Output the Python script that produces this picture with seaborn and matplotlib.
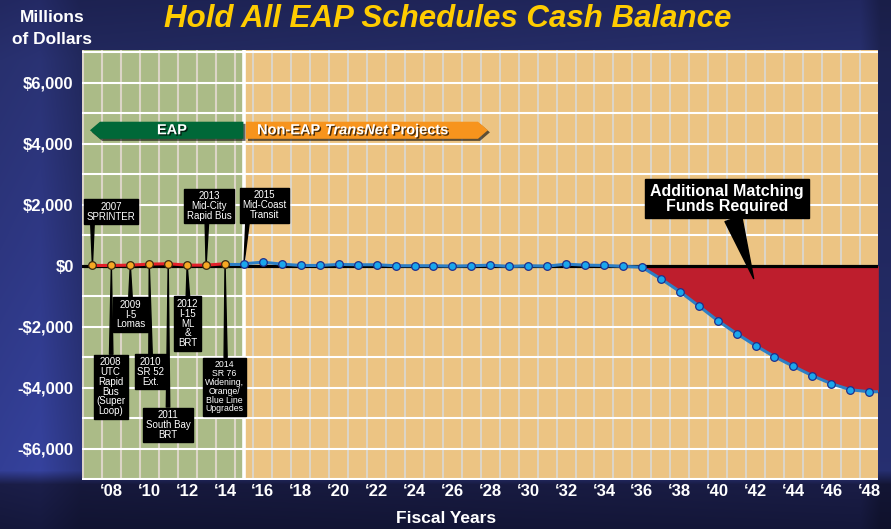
import numpy as np
import pandas as pd
import matplotlib
matplotlib.use("Agg")
import matplotlib.pyplot as plt
import matplotlib.patheffects as pe
from matplotlib.patches import Polygon
from matplotlib.colors import to_rgb
import seaborn as sns

# ---------------- data ----------------
eap_years = [2007, 2008, 2009, 2010, 2011, 2012, 2013, 2014]
eap_values = [10, 10, 20, 53, 66, 20, 20, 66]

plan_years = list(range(2015, 2049))
plan_values = [66, 118, 53, 10, 10, 43, 33, 33, 0, 0,
               0, -13, 0, 20, -23, 0, -13, 53, 20, 10,
               -20, -46, -427, -844, -1314, -1796, -2223, -2617, -2979, -3297,
               -3603, -3865, -4062, -4128]
shortfall_start = 2036

xtick_years = list(range(2008, 2049, 2))
xtick_labels = ["‘08", "‘10", "‘12", "‘14", "‘16", "‘18", "‘20", "‘22", "‘24", "‘26",
                "‘28", "‘30", "‘32", "‘34", "‘36", "‘38", "‘40", "‘42", "‘44", "‘46", "‘48"]
ytick_values = [-6000, -4000, -2000, 0, 2000, 4000, 6000]
ytick_labels = ["-$6,000", "-$4,000", "-$2,000", "$0", "$2,000", "$4,000", "$6,000"]

milestone_years = [2007, 2008, 2009, 2010, 2011, 2012, 2013, 2014, 2015]
milestone_labels = ["2007\nSPRINTER",
                    "2008\nUTC\nRapid\nBus\n(Super\nLoop)",
                    "2009\nI-5\nLomas",
                    "2010\nSR 52\nExt.",
                    "2011\nSouth Bay\nBRT",
                    "2012\nI-15\nML\n&\nBRT",
                    "2013\nMid-City\nRapid Bus",
                    "2014\nSR 76\nWidening,\nOrange/\nBlue Line\nUpgrades",
                    "2015\nMid-Coast\nTransit"]

# ---------------- style ----------------
sns.set_theme(style="white")
plt.rcParams["font.family"] = ["Liberation Sans", "DejaVu Sans"]
NARROW = ["Liberation Sans Narrow", "Liberation Sans", "DejaVu Sans"]

W, H = 891, 529
fig = plt.figure(figsize=(W / 100, H / 100), dpi=100)

# background gradient
bg = fig.add_axes([0, 0, 1, 1], zorder=-10)
ys = np.arange(H)
stops_y = [0, 60, 250, 470, 484, 529]
stops_c = [to_rgb(c) for c in ["#222860", "#28306E", "#2D3680", "#333F96", "#1A1D46", "#14173A"]]
img = np.zeros((H, W, 3))
for k in range(3):
    col = np.interp(ys, stops_y, [c[k] for c in stops_c])
    img[:, :, k] = col[:, None]
xs = np.arange(W)
shade = np.interp(xs, [0, 40, 80, 860, 880, 891], [1.0, 1.05, 0.85, 1.0, 0.75, 0.75])
img = np.clip(img * shade[None, :, None], 0, 1)
bg.imshow(img, aspect="auto", extent=[0, 1, 0, 1])
bg.set_axis_off()

ax = fig.add_axes([82 / W, 1 - 480 / H, (878.3 - 82) / W, (480 - 50) / H])
XMIN, XMAX = 2006.45, 2048.48
YMIN, YMAX = -7020, 7070
ax.set_xlim(XMIN, XMAX)
ax.set_ylim(YMIN, YMAX)

boundary = plan_years[0]
ax.axvspan(XMIN, boundary, color="#ABBB87", lw=0, zorder=0)
ax.axvspan(boundary, XMAX, color="#ECC483", lw=0, zorder=0)
for v in np.arange(2006.5, 2049, 1.0):
    ax.axvline(v, color="#DCD5C7", lw=1.5, zorder=0.5)
for h in range(-7000, 7001, 1000):
    ax.axhline(h, color="white", lw=1.5, zorder=0.6)
ax.axvline(boundary, color="white", lw=2.6, zorder=0.7)

# shortfall fill
fx = [y for y in plan_years if y >= shortfall_start]
fv = [v for y, v in zip(plan_years, plan_values) if y >= shortfall_start]
ax.fill_between(fx + [XMAX], fv + [fv[-1]], 0, color="#BE1E2D", lw=0, zorder=1)
ax.axhline(0, color="black", lw=2.3, zorder=2)

# lines
df_eap = pd.DataFrame({"year": eap_years, "value": eap_values})
sns.lineplot(data=df_eap, x="year", y="value", ax=ax, color="#E3202A", lw=2.2,
             marker="o", markersize=5.5, markerfacecolor="#F7A823",
             markeredgecolor="#3A2A10", markeredgewidth=0.9, zorder=5)
sns.lineplot(x=[eap_years[-1], plan_years[0]], y=[eap_values[-1], plan_values[0]],
             ax=ax, color="#2C7FC6", lw=2.2, zorder=4)
df_plan = pd.DataFrame({"year": plan_years + [XMAX], "value": plan_values + [plan_values[-1]]})
sns.lineplot(data=df_plan, x="year", y="value", ax=ax, color="#2C7FC6", lw=2.2,
             marker="o", markersize=5.5, markerfacecolor="#1AA7EC",
             markeredgecolor="#1F2E8C", markeredgewidth=0.9,
             markevery=list(range(len(plan_years))), zorder=5)

# axes cosmetics
ax.set_xticks(xtick_years, xtick_labels)
ax.set_yticks(ytick_values, ytick_labels)
ax.tick_params(axis="both", length=0, colors="white", labelsize=12)
ax.tick_params(axis="x", pad=3)
ax.tick_params(axis="y", pad=6)
for lab in ax.get_xticklabels() + ax.get_yticklabels():
    lab.set_fontweight("bold")
ax.set_xlabel("")
ax.set_ylabel("")
ax.grid(False)
for s in ax.spines.values():
    s.set_visible(False)

# banners
shadow = [pe.withSimplePatchShadow(offset=(1.5, -1.5), shadow_rgbFace="black", alpha=0.6)]
eap_poly = Polygon([(2006.87, 4440), (2007.4, 4720), (boundary - 0.03, 4720),
                    (boundary - 0.03, 4160), (2007.4, 4160)], closed=True,
                   fc="#006838", ec="none", zorder=3, path_effects=shadow)
ax.add_patch(eap_poly)
non_poly = Polygon([(boundary + 0.1, 4720), (2027.35, 4720), (2027.87, 4440),
                    (2027.35, 4160), (boundary + 0.1, 4160)], closed=True,
                   fc="#F7941D", ec="none", zorder=3, path_effects=shadow)
ax.add_patch(non_poly)
txt_shadow = [pe.withSimplePatchShadow(offset=(1, -1), shadow_rgbFace="black", alpha=0.7)]
ax.text(2011.2, 4440, "EAP", ha="center", va="center", color="white", fontsize=10.5,
        fontweight="bold", zorder=4, path_effects=txt_shadow)
t1 = ax.text(2015.69, 4440, "Non-EAP", ha="left", va="center", color="white",
             fontsize=10.5, fontweight="bold", zorder=4, path_effects=txt_shadow)
t2 = ax.annotate("TransNet", xy=(1, 0), xycoords=t1, xytext=(3, 0), textcoords="offset points",
                 ha="left", va="bottom", color="white", fontsize=10.5, fontweight="bold",
                 fontstyle="italic", zorder=4, path_effects=txt_shadow)
ax.annotate("Projects", xy=(1, 0), xycoords=t2, xytext=(2, 0), textcoords="offset points",
            ha="left", va="bottom", color="white", fontsize=10.5, fontweight="bold",
            zorder=4, path_effects=txt_shadow)

# milestone callouts
value_of = dict(zip(eap_years, eap_values))
value_of.update(dict(zip(plan_years, plan_values)))
callout_layout = {
    2007: ((2007.98, 1767), (0.12, 0), 7.0),
    2008: ((2007.96, -3964), (0.52, 1), 7.0),
    2009: ((2009.01, -1599), (0.5, 1), 7.0),
    2010: ((2010.07, -3471), (0.5, 1), 7.0),
    2011: ((2010.99, -5212), (0.5, 1), 7.0),
    2012: ((2012.02, -1895), (0.52, 1), 7.0),
    2013: ((2013.16, 1964), (0.45, 0), 7.0),
    2014: ((2013.97, -3964), (0.53, 1), 6.3),
    2015: ((2016.06, 1980), (0.13, 0), 7.0),
}
for yr, label in zip(milestone_years, milestone_labels):
    pos, rel, fs = callout_layout[yr]
    ax.annotate(label, xy=(yr, value_of[yr]), xytext=pos, textcoords="data",
                ha="center", va="center", color="white", fontsize=fs, family=NARROW,
                linespacing=0.98, zorder=4.5,
                bbox=dict(boxstyle="square,pad=0.25", fc="black", ec="black"),
                arrowprops=dict(arrowstyle="wedge,tail_width=0.35,shrink_factor=0.5",
                                fc="black", ec="black", relpos=rel, shrinkA=0, shrinkB=0))

ax.annotate("Additional Matching\nFunds Required", xy=(2041.9, -420), xytext=(2040.49, 2194),
            textcoords="data", ha="center", va="center", color="white", fontsize=11.5,
            fontweight="bold", linespacing=0.95, zorder=4.5,
            bbox=dict(boxstyle="square,pad=0.3", fc="black", ec="black"),
            arrowprops=dict(arrowstyle="wedge,tail_width=1.1,shrink_factor=0.5",
                            fc="black", ec="black", relpos=(0.53, 0), shrinkA=0, shrinkB=0))

# figure texts
fig.text(448 / W, 1 - 27 / H, "Hold All EAP Schedules Cash Balance", ha="center", va="baseline",
         color="#FFCC00", fontsize=22.5, fontweight="bold", fontstyle="italic")
fig.text(52 / W, 1 - 22 / H, "Millions", ha="center", va="baseline", color="white",
         fontsize=12.5, fontweight="bold")
fig.text(52 / W, 1 - 44 / H, "of Dollars", ha="center", va="baseline", color="white",
         fontsize=12.5, fontweight="bold")
fig.text(446.5 / W, 1 - 523 / H, "Fiscal Years", ha="center", va="baseline", color="white",
         fontsize=12.5, fontweight="bold")

fig.savefig("out.png", dpi=100)
